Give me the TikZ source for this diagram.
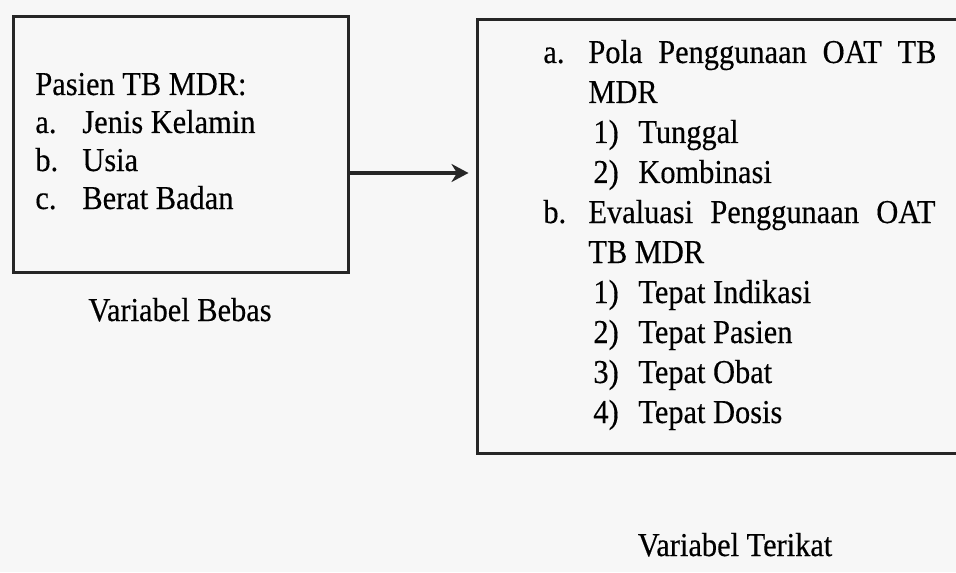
\documentclass[tikz,border=0pt]{standalone}
\usepackage{fontspec}
\setmainfont{Liberation Serif}[FakeStretch=0.91, FakeBold=0.35]
\usetikzlibrary{arrows.meta}

\begin{document}
\begin{tikzpicture}[x=0.5pt, y=-0.5pt, font=\fontsize{16.7pt}{20pt}\selectfont,
    kotak/.style={draw=black!85, line width=1.5pt, inner sep=0pt},
    baris/.style={anchor=base west, inner sep=0pt},
    judul/.style={anchor=base, inner sep=0pt},
    panah/.style={draw=black!85, line width=2pt, -{Stealth[length=8.5pt, width=9pt]}, shorten >=3.5pt}]
  \useasboundingbox[fill=black!3] (0,0) rectangle (956,572);

  % variabel bebas
  \node[kotak, minimum width=167.5pt, minimum height=127.5pt] (bebas) at (180.5,144.5) {};
  \node[baris] (psn) at (35,95) {Pasien TB MDR:};
  \node[baris] (ba) at (35,133) {a.};
  \node[baris] (bat) at (82,133) {Jenis Kelamin};
  \node[baris] (bb) at (35,171) {b.};
  \node[baris] (bbt) at (82,171) {Usia};
  \node[baris] (bc) at (35,209) {c.};
  \node[baris] (bct) at (82,209) {Berat Badan};
  \node[judul] (lbebas) at (180,321) {Variabel Bebas};

  % variabel terikat
  \node[kotak, minimum width=246.5pt, minimum height=216.5pt] (terikat) at (723.5,236.5) {};
  \node[baris] (ta) at (543,63) {a.};
  \node[baris] (tat) at (588,63) {\makebox[174pt][s]{Pola Penggunaan OAT TB}};
  \node[baris] (tat2) at (588,103) {MDR};
  \node[baris] (pola1) at (593,143) {1)};
  \node[baris] (pola1t) at (638,143) {Tunggal};
  \node[baris] (pola2) at (593,183) {2)};
  \node[baris] (pola2t) at (638,183) {Kombinasi};
  \node[baris] (tb) at (543,223) {b.};
  \node[baris] (tbt) at (588,223) {\makebox[173.5pt][s]{Evaluasi Penggunaan OAT}};
  \node[baris] (tbt2) at (588,263) {TB MDR};
  \foreach \n/\t [count=\i] in {1/Tepat Indikasi, 2/Tepat Pasien, 3/Tepat Obat, 4/Tepat Dosis}{
    \node[baris] (ev\i) at (593,263+40*\i) {\n)};
    \node[baris] (ev\i t) at (638,263+40*\i) {\t};
  }
  \node[judul] (lterikat) at (735,556) {Variabel Terikat};

  % panah
  \coordinate (pangkal) at (bebas.east |- 0,173);
  \draw[panah] (pangkal) -- (pangkal -| terikat.west);
\end{tikzpicture}
\end{document}
